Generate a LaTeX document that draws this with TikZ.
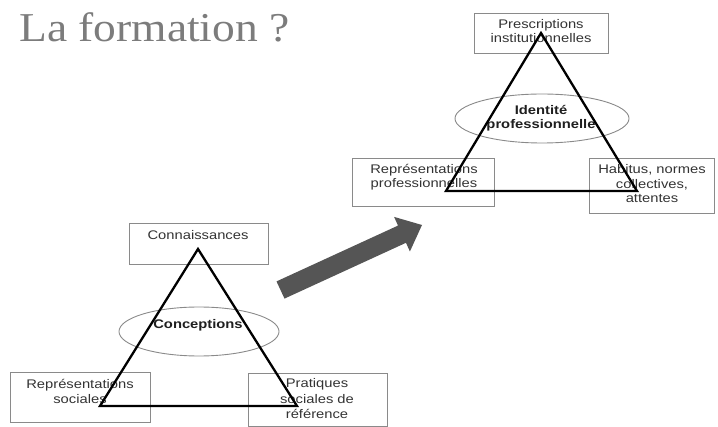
\documentclass[tikz,border=0pt]{standalone}
\usepackage{fontspec}
\setmainfont[FakeStretch=1.18]{Liberation Sans}
\newfontfamily\titlefont[FakeStretch=1.11]{Liberation Serif}
\usetikzlibrary{shapes.geometric}
\definecolor{titlegray}{HTML}{7C7C7C}
\definecolor{txtgray}{HTML}{333333}
\definecolor{boxgray}{HTML}{8A8A8A}
\definecolor{arrowgray}{HTML}{555555}
\tikzset{
  box/.style={draw=boxgray, line width=0.9pt, inner sep=0pt, anchor=north west},
  lbl/.style={text=txtgray, font=\fontsize{12.5}{15.5}\selectfont, align=center, inner sep=0pt, anchor=base},
  blbl/.style={text=black!88, font=\bfseries\fontsize{12.5}{14}\selectfont, align=center, inner sep=0pt, anchor=base},
  ell/.style={draw=boxgray, line width=0.9pt, ellipse, inner sep=0pt},
  tri/.style={draw=black, line width=2.3pt, line join=miter},
  bigarrow/.style={fill=arrowgray, draw=none},
}
\begin{document}
\begin{tikzpicture}[x=1pt,y=-1pt]
\useasboundingbox (0,0) rectangle (718,427);
% title
\node[text=titlegray, font=\titlefont\fontsize{41}{45}\selectfont, inner sep=0pt, anchor=base west] (title) at (19,42) {La formation ?};

% ---------- lower triangle ----------
\node[box, minimum width=139pt, minimum height=41pt] (bconn) at (129,223) {};
\node[box, minimum width=140pt, minimum height=50pt] (brep) at (10,372) {};
\node[box, minimum width=139pt, minimum height=53pt] (bprat) at (248,373) {};
\node[ell, minimum width=160pt, minimum height=49pt] (econc) at (199,331.5) {};
\node[lbl] (tconn) at (198,240) {Connaissances};
\node[lbl] (trep) at (80,404) {Représentations\\sociales};
\node[lbl] (tprat) at (317,419) {Pratiques\\sociales de\\référence};
\node[blbl] (tconc) at (198,329) {Conceptions};
\coordinate (a1) at (198,249);
\coordinate (a2) at (100,406);
\coordinate (a3) at (297,406);
\draw[tri] (a1) -- (a2) -- (a3) -- cycle;

% ---------- upper triangle ----------
\node[box, minimum width=134pt, minimum height=40pt] (bpres) at (474,13) {};
\node[box, minimum width=142pt, minimum height=48pt] (brepp) at (352,158) {};
\node[box, minimum width=125pt, minimum height=55pt] (bhab) at (589,158) {};
\node[ell, minimum width=174pt, minimum height=49pt] (eid) at (542,118.5) {};
\node[lbl, font=\fontsize{12.5}{14}\selectfont] (tpres) at (541,42.5) {Prescriptions\\institutionnelles};
\node[lbl, font=\fontsize{12.5}{14.5}\selectfont] (trepp) at (424,188) {Représentations\\professionnelles};
\node[lbl, font=\fontsize{12.5}{14.5}\selectfont] (thab) at (652,203) {Habitus, normes\\collectives,\\attentes};
\node[blbl] (tid) at (541,129) {Identité\\professionnelle};
\coordinate (b1) at (541,33);
\coordinate (b2) at (446,191);
\coordinate (b3) at (637,191);
\draw[tri] (b1) -- (b2) -- (b3) -- cycle;

% ---------- big arrow ----------
\fill[bigarrow] (276.5,281.4) -- (398,225.6) -- (394.1,216.9) -- (422,225)
  -- (409.9,251.5) -- (406,242.8) -- (284.5,298.6) -- cycle;
\end{tikzpicture}
\end{document}
